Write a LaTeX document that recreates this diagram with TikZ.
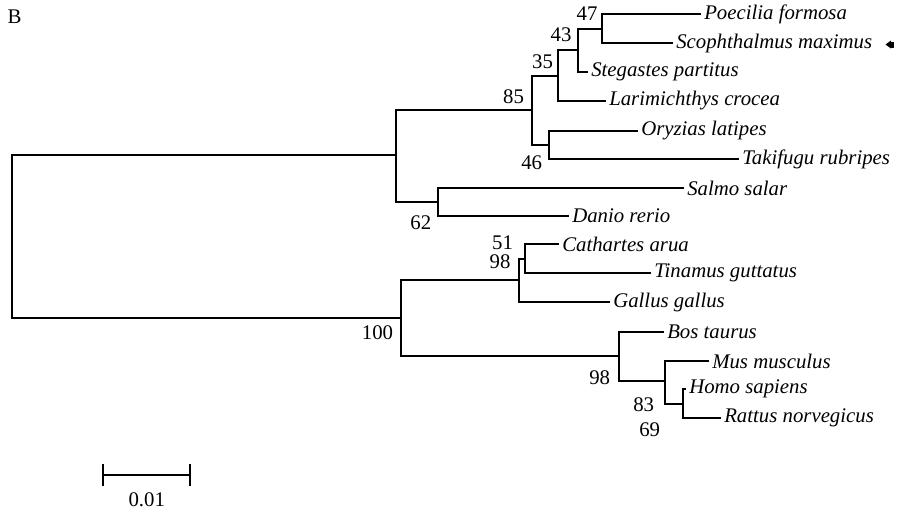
\documentclass[tikz,border=0pt]{standalone}
\usepackage{fontspec}
\setmainfont{Liberation Serif}
\begin{document}
\begin{tikzpicture}[x=0.75pt,y=-0.75pt,
  branch/.style={line width=1.5pt, line cap=rect},
  taxon/.style={anchor=west, inner xsep=3pt, inner ysep=0pt, font=\fontsize{15.6}{18}\selectfont\itshape},
  boot/.style={inner sep=0pt, font=\fontsize{15.6}{18}\selectfont},
  plain/.style={inner sep=0pt, font=\fontsize{15.6}{18}\selectfont}]
\useasboundingbox (0,0) rectangle (897,512);
\fill[white] (0,0) rectangle (897,512);

% internal nodes
\coordinate (root) at (12,237);
\coordinate (nF)   at (396,155);
\coordinate (n85)  at (532,110);
\coordinate (n35)  at (558,76);
\coordinate (n43)  at (578,50);
\coordinate (n47)  at (602,29);
\coordinate (n46)  at (549,145);
\coordinate (n62)  at (438,202);
\coordinate (n100) at (401,318);
\coordinate (n98b) at (519,280);
\coordinate (n51)  at (525,259);
\coordinate (n98m) at (619,356);
\coordinate (n83)  at (665,381);
\coordinate (n69)  at (683,404);

% leaf ends
\coordinate (lPoe) at (700,14);
\coordinate (lSco) at (672,43);
\coordinate (lSte) at (587,72);
\coordinate (lLar) at (605,101);
\coordinate (lOry) at (637,131);
\coordinate (lTak) at (738,159);
\coordinate (lSal) at (683,188);
\coordinate (lDan) at (568,216);
\coordinate (lCat) at (558,244);
\coordinate (lTin) at (650,273);
\coordinate (lGal) at (609,302);
\coordinate (lBos) at (663,332);
\coordinate (lMus) at (708,361);
\coordinate (lHom) at (685,389);
\coordinate (lRat) at (720,418);

% branches
\draw[branch] (root) |- (nF);
\draw[branch] (root) |- (n100);
\draw[branch] (nF) |- (n85);
\draw[branch] (nF) |- (n62);
\draw[branch] (n85) |- (n35);
\draw[branch] (n85) |- (n46);
\draw[branch] (n35) |- (n43);
\draw[branch] (n35) |- (lLar);
\draw[branch] (n43) |- (n47);
\draw[branch] (n43) |- (lSte);
\draw[branch] (n47) |- (lPoe);
\draw[branch] (n47) |- (lSco);
\draw[branch] (n46) |- (lOry);
\draw[branch] (n46) |- (lTak);
\draw[branch] (n62) |- (lSal);
\draw[branch] (n62) |- (lDan);
\draw[branch] (n100) |- (n98b);
\draw[branch] (n100) |- (n98m);
\draw[branch] (n98b) |- (n51);
\draw[branch] (n98b) |- (lGal);
\draw[branch] (n51) |- (lCat);
\draw[branch] (n51) |- (lTin);
\draw[branch] (n98m) |- (lBos);
\draw[branch] (n98m) |- (n83);
\draw[branch] (n83) |- (lMus);
\draw[branch] (n83) |- (n69);
\draw[branch] (n69) |- (lHom);
\draw[branch] (n69) |- (lRat);

% taxon labels
\node[taxon] (tPoe) at (lPoe) {Poecilia formosa};
\node[taxon] (tSco) at (lSco) {Scophthalmus maximus};
\node[taxon] (tSte) at (lSte) {Stegastes partitus};
\node[taxon] (tLar) at (lLar) {Larimichthys crocea};
\node[taxon] (tOry) at (lOry) {Oryzias latipes};
\node[taxon] (tTak) at (lTak) {Takifugu rubripes};
\node[taxon] (tSal) at (lSal) {Salmo salar};
\node[taxon] (tDan) at (lDan) {Danio rerio};
\node[taxon] (tCat) at (lCat) {Cathartes arua};
\node[taxon] (tTin) at (lTin) {Tinamus guttatus};
\node[taxon] (tGal) at (lGal) {Gallus gallus};
\node[taxon] (tBos) at (lBos) {Bos taurus};
\node[taxon] (tMus) at (lMus) {Mus musculus};
\node[taxon] (tHom) at (lHom) {Homo sapiens};
\node[taxon] (tRat) at (lRat) {Rattus norvegicus};

% marker
\fill[black] (885.5,44.5) -- (891,40.5) -- (891,48.5) -- cycle;
\fill[black] (890,41.5) rectangle (893.5,47.5);

% bootstrap values
\node[boot] (b47)  at (587,14) {47};
\node[boot] (b43)  at (561,35) {43};
\node[boot] (b35)  at (542.5,61.7) {35};
\node[boot] (b85)  at (513.5,96.7) {85};
\node[boot] (b46)  at (531.7,162.5) {46};
\node[boot] (b62)  at (420.8,223) {62};
\node[boot] (b51)  at (502.5,242.5) {51};
\node[boot] (b98b) at (500,262) {98};
\node[boot] (b100) at (377.5,332.5) {100};
\node[boot] (b98m) at (599.7,377.5) {98};
\node[boot] (b83)  at (643.7,405) {83};
\node[boot] (b69)  at (649.7,430) {69};

% panel letter
\node[plain] (panel) at (14.5,17) {B};

% scale bar
\coordinate (sbL) at (103,475);
\coordinate (sbR) at (190,475);
\draw[line width=1.5pt] (sbL) -- (sbR);
\draw[line width=1.5pt] ([yshift=8]sbL) -- ([yshift=-8]sbL);
\draw[line width=1.5pt] ([yshift=8]sbR) -- ([yshift=-8]sbR);
\node[plain] (sbT) at (146.7,500) {0.01};
\end{tikzpicture}
\end{document}
